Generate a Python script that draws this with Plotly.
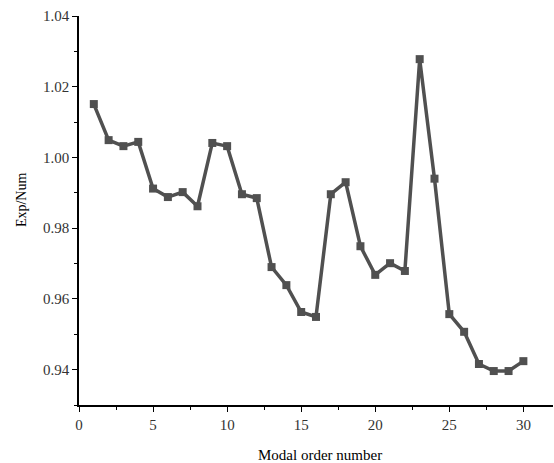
import plotly.graph_objects as go

modal_order = list(range(1, 31))
exp_num = [1.0151, 1.0049, 1.0032, 1.0044, 0.9912, 0.9888, 0.9902, 0.9862, 1.0041, 1.0032,
           0.9896, 0.9885, 0.9690, 0.9639, 0.9563, 0.9549, 0.9896, 0.9930, 0.9749, 0.9668,
           0.9701, 0.9679, 1.0278, 0.9940, 0.9557, 0.9507, 0.9416, 0.9396, 0.9396, 0.9424]
x_title = "Modal order number"
y_title = "Exp/Num"

fig = go.Figure(go.Scatter(
    x=modal_order, y=exp_num, mode="lines+markers",
    line=dict(color="#505050", width=3.5),
    marker=dict(symbol="square", size=8, color="#505050"),
))

font_family = "Liberation Serif, Times New Roman, serif"
fig.update_layout(
    width=554, height=463,
    margin=dict(l=79, r=1, t=16, b=58, autoexpand=False),
    plot_bgcolor="white", paper_bgcolor="white",
    showlegend=False,
    font=dict(family=font_family, size=14, color="black"),
    annotations=[
        dict(text=x_title, xref="paper", yref="paper", x=0.508, y=-0.1285,
             xanchor="center", yanchor="middle", showarrow=False, font=dict(size=15)),
        dict(text=y_title, xref="paper", yref="paper", x=-0.12, y=0.527,
             xanchor="center", yanchor="middle", showarrow=False, textangle=-90,
             font=dict(size=14)),
    ],
)
fig.update_xaxes(
    range=[0, 32], tick0=0, dtick=5, showgrid=False, zeroline=False, automargin=False,
    showline=True, linecolor="black", linewidth=1.5,
    ticks="outside", ticklen=5, tickcolor="black", tickwidth=1.2,
    minor=dict(dtick=2.5, ticks="outside", ticklen=3, tickcolor="black", tickwidth=1.2),
    tickfont=dict(size=15, color="#333333"),
)
fig.update_yaxes(
    range=[0.93, 1.04], tick0=0.94, dtick=0.02, tickformat=".2f", automargin=False,
    showgrid=False, zeroline=False,
    showline=True, linecolor="black", linewidth=1.5,
    ticks="outside", ticklen=5, tickcolor="black", tickwidth=1.2,
    minor=dict(tick0=0.93, dtick=0.01, ticks="outside", ticklen=3, tickcolor="black", tickwidth=1.2),
    tickfont=dict(size=15, color="#333333"),
)

fig.write_html("out.html", config={"displayModeBar": False},
               post_script="document.body.style.margin='0';document.body.style.overflow='hidden';")
